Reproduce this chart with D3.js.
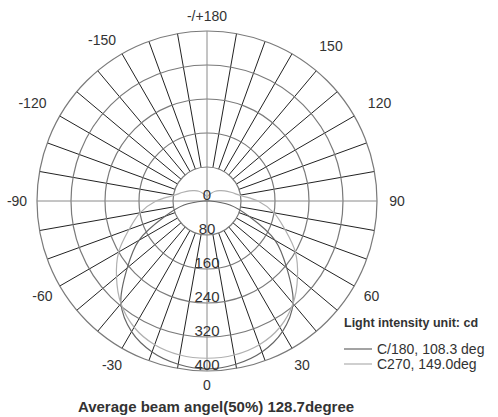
<!DOCTYPE html>
<html>
<head>
<meta charset="utf-8">
<script src="https://cdn.jsdelivr.net/npm/d3@7"></script>
<style>
  body { margin: 0; background: #fff; }
  text { font-family: Arial, "Liberation Sans", sans-serif; fill: #333; }
</style>
</head>
<body>
<svg class="chart"></svg>
<script>
// polar angles (deg from nadir), one half of the symmetric curve
const angles = [0, 10, 20, 30, 40, 50, 60, 70, 80, 90, 100, 110, 120, 130, 140, 150, 160, 170, 180];
// C/180 plane, cd
const c180 = [395, 390, 378, 355, 315, 245, 185, 105, 55, 8, 0, 0, 0, 0, 0, 0, 0, 0, 0];
// C270 plane, cd
const c270 = [370, 368, 360, 343, 315, 278, 240, 195, 160, 120, 78, 60, 48, 38, 30, 22, 16, 12, 10];

const ringTicks = [0, 80, 160, 240, 320, 400];
const angleTicks = [-180, -150, -120, -90, -60, -30, 0, 30, 60, 90, 120, 150];
const seriesNames = ["C/180, 108.3 deg", "C270, 149.0deg"];
const unitText = "Light intensity unit: cd";
const beamText = "Average beam angel(50%) 128.7degree";

let width = 498, height = 417;
let cx = 207, cy = 201, radius = 170;

let svg = d3.select(".chart")
    .attr("width", width)
    .attr("height", height);

svg.append("rect").attr("width", width).attr("height", height).attr("fill", "#fff");

let r = d3.scaleLinear().domain([0, 400]).range([0, radius]);
let toRad = d => (180 - d) * Math.PI / 180;   // 0 = down, +90 = right

let chart = svg.append("g").attr("transform", "translate(" + cx + "," + cy + ")");

// spokes every 10 degrees, from first ring to the rim
let spokes = d3.range(-170, 190, 10).filter(d => d % 90 != 0);
chart.selectAll(".spoke")
    .data(spokes)
  .enter().append("line")
    .attr("x1", d => r(80) * Math.sin(toRad(d)))
    .attr("y1", d => -r(80) * Math.cos(toRad(d)))
    .attr("x2", d => r(400) * Math.sin(toRad(d)))
    .attr("y2", d => -r(400) * Math.cos(toRad(d)))
    .attr("stroke", "#222")
    .attr("stroke-width", 1);

// rings
chart.selectAll(".ring")
    .data(ringTicks.slice(1))
  .enter().append("circle")
    .attr("r", d => r(d))
    .attr("fill", "none")
    .attr("stroke", "#7a7a7a")
    .attr("stroke-width", 1.2);

// main axes
chart.append("line").attr("x1", -r(400)).attr("x2", r(400))
    .attr("stroke", "#8a8a8a").attr("stroke-width", 1);
chart.append("line").attr("y1", -r(400)).attr("y2", r(400))
    .attr("stroke", "#8a8a8a").attr("stroke-width", 1);

// curves, mirrored to both sides
function full(vals) {
  let pts = angles.map((a, i) => [a, vals[i]]);
  let left = pts.slice(1, -1).reverse().map(p => [-p[0], p[1]]);
  return pts.concat(left);
}
let line = d3.lineRadial()
    .angle(d => toRad(d[0]))
    .radius(d => r(d[1]))
    .curve(d3.curveCatmullRomClosed);

let curveColors = ["#666", "#b0b0b0"];
[c180, c270].forEach((vals, i) => {
  chart.append("path")
      .attr("d", line(full(vals)))
      .attr("fill", "none")
      .attr("stroke", curveColors[i])
      .attr("stroke-width", 1.2);
});

// ring labels along the nadir axis
chart.selectAll(".rlab")
    .data(ringTicks)
  .enter().append("text")
    .attr("x", 0)
    .attr("y", d => r(d) - 1)
    .attr("text-anchor", "middle")
    .attr("font-size", 15)
    .text(d => d);

// angle labels: radial placement, a few nudged like the original sheet
let nudge = {"-180": [0, 5], "150": [29, 10], "-150": [-10, 4], "120": [8, -3], "-120": [-10, -3], "0": [0, -6]};
chart.selectAll(".alab")
    .data(angleTicks)
  .enter().append("text")
    .attr("x", d => 190 * Math.sin(toRad(d)) + (nudge[d] || [0, 0])[0])
    .attr("y", d => -190 * Math.cos(toRad(d)) + (nudge[d] || [0, 0])[1])
    .attr("dy", "0.35em")
    .attr("text-anchor", "middle")
    .attr("font-size", 14)
    .text(d => d == -180 ? "-/+180" : d);

// legend
let legend = svg.append("g").attr("transform", "translate(344,327)");
legend.append("text").text(unitText)
    .attr("font-size", 12.5).attr("font-weight", "bold");
seriesNames.forEach((name, i) => {
  legend.append("line")
      .attr("x1", 0).attr("x2", 28)
      .attr("y1", 22 + i * 15).attr("y2", 22 + i * 15)
      .attr("stroke", curveColors[i]).attr("stroke-width", 1.2);
  legend.append("text").text(name)
      .attr("x", 33).attr("y", 27 + i * 15)
      .attr("font-size", 14);
});

svg.append("text").text(beamText)
    .attr("x", 216).attr("y", 412)
    .attr("text-anchor", "middle")
    .attr("font-size", 15)
    .attr("font-weight", "bold");
</script>
</body>
</html>
